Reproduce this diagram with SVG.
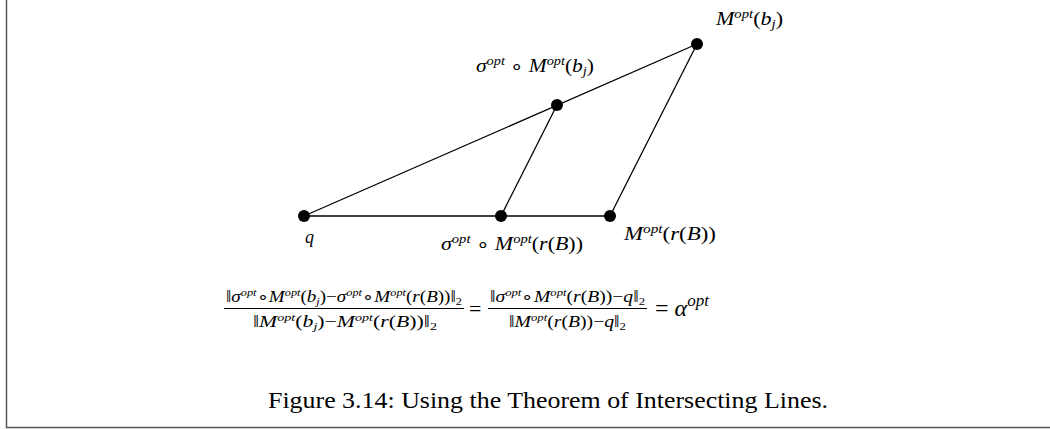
<svg xmlns="http://www.w3.org/2000/svg" width="1050" height="429" viewBox="0 0 1050 429">
<style>
.m{font-family:'Liberation Serif','Times New Roman',serif;font-style:italic;font-weight:normal;fill:#000}
.u{font-style:normal}
.s{font-size:12px}
.t{font-size:11px}
.cap{font-family:'Liberation Serif','Times New Roman',serif;font-size:23px;fill:#000}
.edge{stroke:#000;stroke-width:1.3;fill:none}
.dot{fill:#000}
</style>
<rect width="1050" height="429" fill="#fff"/>
<path d="M6.5 0 V427.5 H1050" fill="none" stroke="#555" stroke-width="1.5"/>
<g id="connectors">
<line class="edge" x1="304" y1="216" x2="697" y2="44"/>
<line class="edge" x1="304" y1="216" x2="610" y2="216"/>
<line class="edge" x1="501" y1="216" x2="557" y2="105"/>
<line class="edge" x1="610" y1="216" x2="697" y2="44"/>
</g>
<g id="q"><circle class="dot" cx="304" cy="216" r="6"/>
<text class="m" x="305" y="243" font-size="18">q</text></g>
<g id="sMrB"><circle class="dot" cx="501" cy="216" r="6"/>
<text class="m" x="441" y="250" font-size="18" textLength="142" lengthAdjust="spacingAndGlyphs">σ<tspan class="s" dy="-7">opt</tspan><tspan class="u" dy="7"> ∘ </tspan>M<tspan class="s" dy="-7">opt</tspan><tspan class="u" dy="7">(</tspan>r<tspan class="u">(</tspan>B<tspan class="u">))</tspan></text></g>
<g id="MrB"><circle class="dot" cx="610" cy="216" r="6"/>
<text class="m" x="624" y="240" font-size="18" textLength="92" lengthAdjust="spacingAndGlyphs">M<tspan class="s" dy="-7">opt</tspan><tspan class="u" dy="7">(</tspan>r<tspan class="u">(</tspan>B<tspan class="u">))</tspan></text></g>
<g id="sMbj"><circle class="dot" cx="557" cy="105" r="6"/>
<text class="m" x="476" y="72" font-size="18" textLength="118" lengthAdjust="spacingAndGlyphs">σ<tspan class="s" dy="-7">opt</tspan><tspan class="u" dy="7"> ∘ </tspan>M<tspan class="s" dy="-7">opt</tspan><tspan class="u" dy="7">(</tspan>b<tspan class="s" dy="3">j</tspan><tspan class="u" dy="-3">)</tspan></text></g>
<g id="Mbj"><circle class="dot" cx="697" cy="44" r="6"/>
<text class="m" x="716" y="25" font-size="18" textLength="67" lengthAdjust="spacingAndGlyphs">M<tspan class="s" dy="-7">opt</tspan><tspan class="u" dy="7">(</tspan>b<tspan class="s" dy="3">j</tspan><tspan class="u" dy="-3">)</tspan></text></g>
<g id="formula">
<text class="m" x="226" y="302" font-size="17" textLength="236" lengthAdjust="spacingAndGlyphs"><tspan class="u">‖</tspan>σ<tspan class="t" dy="-6">opt</tspan><tspan class="u" dy="6">∘</tspan>M<tspan class="t" dy="-6">opt</tspan><tspan class="u" dy="6">(</tspan>b<tspan class="t" dy="3">j</tspan><tspan class="u" dy="-3">)−</tspan>σ<tspan class="t" dy="-6">opt</tspan><tspan class="u" dy="6">∘</tspan>M<tspan class="t" dy="-6">opt</tspan><tspan class="u" dy="6">(</tspan>r<tspan class="u">(</tspan>B<tspan class="u">))‖</tspan><tspan class="t u" dy="3">2</tspan></text>
<line x1="224" y1="308.5" x2="464" y2="308.5" stroke="#000" stroke-width="1"/>
<text class="m" x="253" y="327" font-size="17" textLength="184" lengthAdjust="spacingAndGlyphs"><tspan class="u">‖</tspan>M<tspan class="t" dy="-6">opt</tspan><tspan class="u" dy="6">(</tspan>b<tspan class="t" dy="3">j</tspan><tspan class="u" dy="-3">)−</tspan>M<tspan class="t" dy="-6">opt</tspan><tspan class="u" dy="6">(</tspan>r<tspan class="u">(</tspan>B<tspan class="u">))‖</tspan><tspan class="t u" dy="3">2</tspan></text>
<text class="m u" x="469" y="316" font-size="22">=</text>
<text class="m" x="490" y="302" font-size="17" textLength="155" lengthAdjust="spacingAndGlyphs"><tspan class="u">‖</tspan>σ<tspan class="t" dy="-6">opt</tspan><tspan class="u" dy="6">∘</tspan>M<tspan class="t" dy="-6">opt</tspan><tspan class="u" dy="6">(</tspan>r<tspan class="u">(</tspan>B<tspan class="u">))−</tspan>q<tspan class="u">‖</tspan><tspan class="t u" dy="3">2</tspan></text>
<line x1="488" y1="308.5" x2="647" y2="308.5" stroke="#000" stroke-width="1"/>
<text class="m" x="509" y="327" font-size="17" textLength="117" lengthAdjust="spacingAndGlyphs"><tspan class="u">‖</tspan>M<tspan class="t" dy="-6">opt</tspan><tspan class="u" dy="6">(</tspan>r<tspan class="u">(</tspan>B<tspan class="u">))−</tspan>q<tspan class="u">‖</tspan><tspan class="t u" dy="3">2</tspan></text>
<text class="m" x="655" y="316" font-size="24"><tspan class="u">=</tspan> α<tspan font-size="17" dy="-10">opt</tspan></text>
</g>
<text class="cap" x="268" y="408" textLength="560" lengthAdjust="spacingAndGlyphs">Figure 3.14: Using the Theorem of Intersecting Lines.</text>
</svg>
